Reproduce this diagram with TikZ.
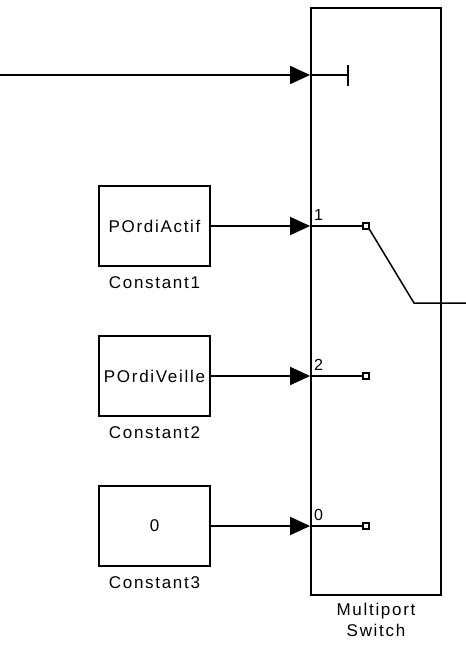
\documentclass[tikz,border=0pt]{standalone}
\usepackage{fontspec}
\setmainfont{Liberation Sans}
\usetikzlibrary{arrows.meta}
\begin{document}
\begin{tikzpicture}[x=1pt,y=-1pt,
  blk/.style={draw,line width=1.8pt,minimum width=111pt,minimum height=80pt,inner sep=0pt,
    font=\fontsize{17}{19}\selectfont\addfontfeature{LetterSpace=10}},
  lbl/.style={inner sep=0pt,font=\fontsize{17}{21}\selectfont\addfontfeature{LetterSpace=10}},
  plbl/.style={inner sep=0pt,anchor=south west,font=\fontsize{16}{18}\selectfont},
  sig/.style={line width=1.8pt,-{Triangle[length=20pt,width=18pt]}},
  wire/.style={line width=1.8pt},
  sq/.style={draw,line width=1.2pt,minimum size=6pt,inner sep=0pt}
]
\useasboundingbox (0,0) rectangle (466,646);
% switch block
\node[draw,line width=1.8pt,minimum width=130pt,minimum height=587pt,inner sep=0pt] (sw) at (376,301.5) {};
\node[lbl,align=center] (swl) at (376,620) {Multiport\\Switch};
% constants
\node[blk] (c1) at (154.5,226) {POrdiActif};
\node[lbl] (c1l) at (154.5,283) {Constant1};
\node[blk] (c2) at (154.5,376) {POrdiVeille};
\node[lbl] (c2l) at (154.5,433) {Constant2};
\node[blk] (c3) at (154.5,526) {0};
\node[lbl] (c3l) at (154.5,583) {Constant3};
% top input
\coordinate (in) at (0,75);
\draw[sig] (in) -- (in -| sw.west);
\coordinate (t) at (348,75);
\draw[wire] (in -| sw.west) -- (t);
\draw[wire] ([yshift=-10.5pt]t) -- ([yshift=10.5pt]t);
% data inputs
\draw[sig] (c1.east) -- (c1.east -| sw.west);
\draw[sig] (c2.east) -- (c2.east -| sw.west);
\draw[sig] (c3.east) -- (c3.east -| sw.west);
% port labels
\node[plbl] (n1) at (314,221) {1};
\node[plbl] (n2) at (314,371) {2};
\node[plbl] (n0) at (314,521) {0};
% internal ports
\node[sq] (s1) at (366,226) {};
\node[sq] (s2) at (366,376) {};
\node[sq] (s3) at (366,526) {};
\draw[wire] (c1.east -| sw.west) -- (s1.west);
\draw[wire] (c2.east -| sw.west) -- (s2.west);
\draw[wire] (c3.east -| sw.west) -- (s3.west);
% switch contact
\coordinate (k) at (414,303);
\coordinate (out) at (466,303);
\draw[line width=1.5pt] (s1.south east) -- (k) -- (out);
\end{tikzpicture}
\end{document}
